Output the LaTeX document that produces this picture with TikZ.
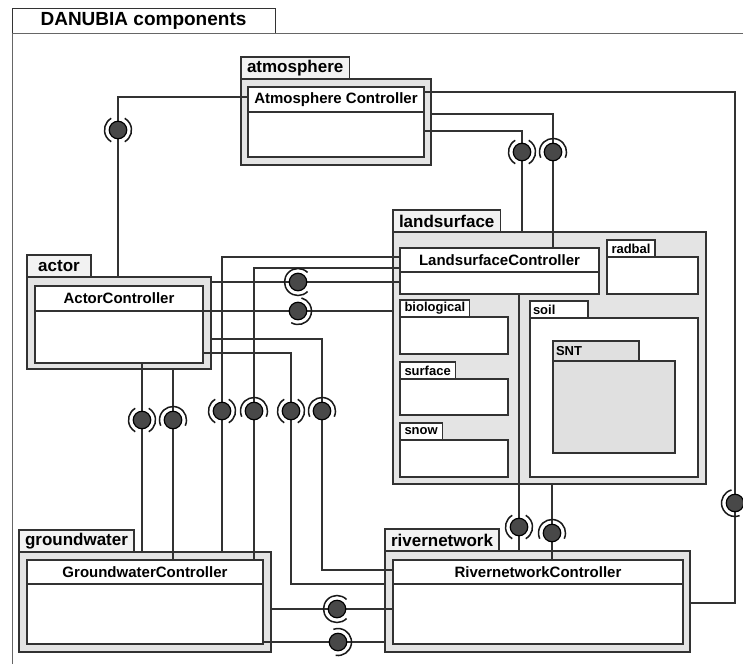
\documentclass[tikz,border=0pt]{standalone}
\usepackage{fontspec}
\setmainfont{Liberation Sans}
\usetikzlibrary{positioning}
\definecolor{pkggray} {RGB}{228,228,228}
\definecolor{tabgray} {RGB}{242,242,242}
\definecolor{sntgray} {RGB}{224,224,224}
\definecolor{ballgray}{RGB}{72 , 72, 72}
\definecolor{linegray}{RGB}{50 , 50, 50}
\pgfdeclarelayer{front}
\pgfsetlayers{main,front}
\newcommand{\sock}[3]{\draw[socket] ([shift={(#2:13.5pt)}]#1.center) arc[start angle=#2, end angle=#3, radius=13.5pt];}

\begin{document}
\begin{tikzpicture}[
  x=1pt, y=-1pt,
  every node/.style={inner sep=0pt, outer sep=0pt},
  frametab/.style={draw=black!80, fill=white, line width=1pt, font=\fontsize{19}{22}\selectfont\bfseries, minimum width=263, minimum height=25, anchor=north west},
  frameline/.style={draw=black!60, line width=1pt},
  pkg/.style={draw=linegray, fill=pkggray, line width=1.3pt, anchor=north west},
  pkgtab/.style={draw=linegray, fill=tabgray, line width=1.3pt, font=\fontsize{17}{20}\selectfont\bfseries, inner xsep=6pt, minimum height=22},
  ctrlhead/.style={draw=linegray, fill=white, line width=1.3pt, font=\fontsize{15}{18}\selectfont\bfseries, anchor=north west},
  ctrlbody/.style={draw=linegray, fill=white, line width=1.3pt},
  sub/.style={draw=linegray, fill=white, line width=1.3pt, anchor=north west},
  subtab/.style={draw=linegray, fill=white, line width=1.3pt, font=\fontsize{13}{16}\selectfont\bfseries, inner xsep=4.5pt, minimum height=17},
  wire/.style={draw=linegray, line width=1.3pt},
  ball/.style={circle, draw=black, fill=ballgray, line width=1.2pt, minimum size=17.5},
  socket/.style={draw=black!90, line width=1.5pt}
]
  \useasboundingbox (0,0) rectangle (743,664);

  % Frame
  \node[frametab] (frame) at (12,8) {DANUBIA components};
  \coordinate (frameBL) at (12,664);
  \coordinate (frameTR) at (743,33);
  \draw[frameline] (frameBL) |- (frameTR);

  % Packages
  \node[pkg, minimum width=190, minimum height=86] (atm) at (241,79) {};
  \node[pkgtab, above right=0pt of atm.north west] (atmtab) {atmosphere};
  \node[ctrlhead, minimum width=176, minimum height=25] (atmc) at (248,87) {Atmosphere Controller};
  \node[ctrlbody, below=0pt of atmc, minimum width=176, minimum height=45] (atmcb) {};

  \node[pkg, minimum width=184, minimum height=92] (actor) at (27,277) {};
  \node[pkgtab, above right=0pt of actor.north west, minimum width=64] (actortab) {actor};
  \node[ctrlhead, minimum width=168, minimum height=25] (actc) at (35,286) {ActorController};
  \node[ctrlbody, below=0pt of actc, minimum width=168, minimum height=52] (actcb) {};

  \node[pkg, minimum width=313, minimum height=252] (ls) at (393,232) {};
  \node[pkgtab, above right=0pt of ls.north west] (lstab) {landsurface};
  \node[ctrlhead, minimum width=199, minimum height=24] (lsc) at (400,248) {LandsurfaceController};
  \node[ctrlbody, below=0pt of lsc, minimum width=199, minimum height=22] (lscb) {};

  \node[sub, minimum width=91, minimum height=37] (radbal) at (607,257) {};
  \node[subtab, above right=0pt of radbal.north west] (radbaltab) {radbal};
  \node[sub, minimum width=108, minimum height=37] (bio) at (400,317) {};
  \node[subtab, above right=0pt of bio.north west] (biotab) {biological};
  \node[sub, minimum width=108, minimum height=36] (surf) at (400,379) {};
  \node[subtab, above right=0pt of surf.north west] (surftab) {surface};
  \node[sub, minimum width=108, minimum height=37] (snow) at (400,440) {};
  \node[subtab, above right=0pt of snow.north west] (snowtab) {snow};
  \node[sub, minimum width=168, minimum height=159] (soil) at (530,318) {};
  \node[subtab, above right=0pt of soil.north west, inner xsep=3pt] (soiltab) {\makebox[52pt][l]{soil}};
  \node[sub, fill=sntgray, minimum width=122, minimum height=92] (snt) at (553,361) {};
  \node[subtab, fill=sntgray, above right=0pt of snt.north west, minimum height=20, inner xsep=3pt] (snttab) {\makebox[80pt][l]{SNT}};

  \node[pkg, minimum width=252, minimum height=100] (gw) at (19,552) {};
  \node[pkgtab, above right=0pt of gw.north west] (gwtab) {groundwater};
  \node[ctrlhead, minimum width=236, minimum height=24] (gwc) at (27,560) {GroundwaterController};
  \node[ctrlbody, below=0pt of gwc, minimum width=236, minimum height=60] (gwcb) {};

  \node[pkg, minimum width=305, minimum height=101] (rn) at (385,551) {};
  \node[pkgtab, above right=0pt of rn.north west] (rntab) {rivernetwork};
  \node[ctrlhead, minimum width=290, minimum height=24] (rnc) at (393,560) {RivernetworkController};
  \node[ctrlbody, below=0pt of rnc, minimum width=290, minimum height=60] (rncb) {};

  % Interfaces
  \begin{pgfonlayer}{front}
    \foreach \nm/\px/\py in {iAtmAct/118/130, iAtmLs1/522/152, iAtmLs2/553/152,
        iActLs1/298/282, iActLs2/298/311, iActGw1/142/420, iActGw2/173/420,
        iLsGw1/222/411, iLsGw2/254/411, iActRn1/291/411, iActRn2/322/411,
        iLsRn1/519/527, iLsRn2/552/533, iAtmRn/735/503, iGwRn1/337/609, iGwRn2/338/642}
      \node[ball] (\nm) at (\px,\py) {};
    \foreach \nm/\a/\b in {iAtmAct/120/240, iAtmAct/-60/60, iAtmLs1/120/240, iAtmLs1/-60/60,
        iAtmLs2/-25/205, iActLs1/45/315, iActLs2/-120/75, iActGw1/120/240, iActGw1/-60/60,
        iActGw2/-25/205, iLsGw1/120/240, iLsGw1/-60/60, iLsGw2/-25/205,
        iActRn1/120/240, iActRn1/-60/60, iActRn2/-25/205, iLsRn1/120/240, iLsRn1/-60/60,
        iLsRn2/-25/205, iAtmRn/105/290, iGwRn1/45/315, iGwRn2/-100/110}
      {\sock{\nm}{\a}{\b}}
  \end{pgfonlayer}

  % Paths
  \draw[wire] (atmc.west |- 0,97) -| (iAtmAct.center) -- (iAtmAct |- actor.north);
  \draw[wire] (atmc.east |- 0,92) -| (iAtmRn.center) |- (rn.east |- 0,603);
  \draw[wire] (atm.east |- 0,114) -| (iAtmLs2.center) -- (iAtmLs2 |- lsc.north);
  \draw[wire] (atmcb.east |- 0,131) -| (iAtmLs1.center) -- (iAtmLs1 |- ls.north);
  \draw[wire] (actor.east |- iActLs1) -- (iActLs1 -| lsc.west);
  \draw[wire] (actc.east |- iActLs2) -- (iActLs2 -| ls.west);
  \draw[wire] (actor.east |- 0,339) -| (iActRn2.center) |- (rnc.west |- 0,570);
  \draw[wire] (actcb.east |- 0,353) -| (iActRn1.center) |- (rn.west |- 0,584);
  \draw[wire] (actcb.south -| iActGw1) -- (iActGw1 |- gw.north);
  \draw[wire] (actor.south -| iActGw2) -- (iActGw2 |- gwc.north);
  \draw[wire] (lsc.west |- 0,257) -| (iLsGw1.center) -- (iLsGw1 |- gw.north);
  \draw[wire] (lsc.west |- 0,268) -| (iLsGw2.center) -- (iLsGw2 |- gwc.north);
  \draw[wire] (lscb.south -| iLsRn1) -- (iLsRn1 |- rn.north);
  \draw[wire] (ls.south -| iLsRn2) -- (iLsRn2 |- rnc.north);
  \draw[wire] (gw.east |- iGwRn1) -- (iGwRn1 -| rncb.west);
  \draw[wire] (gwcb.east |- iGwRn2) -- (iGwRn2 -| rn.west);
\end{tikzpicture}
\end{document}
